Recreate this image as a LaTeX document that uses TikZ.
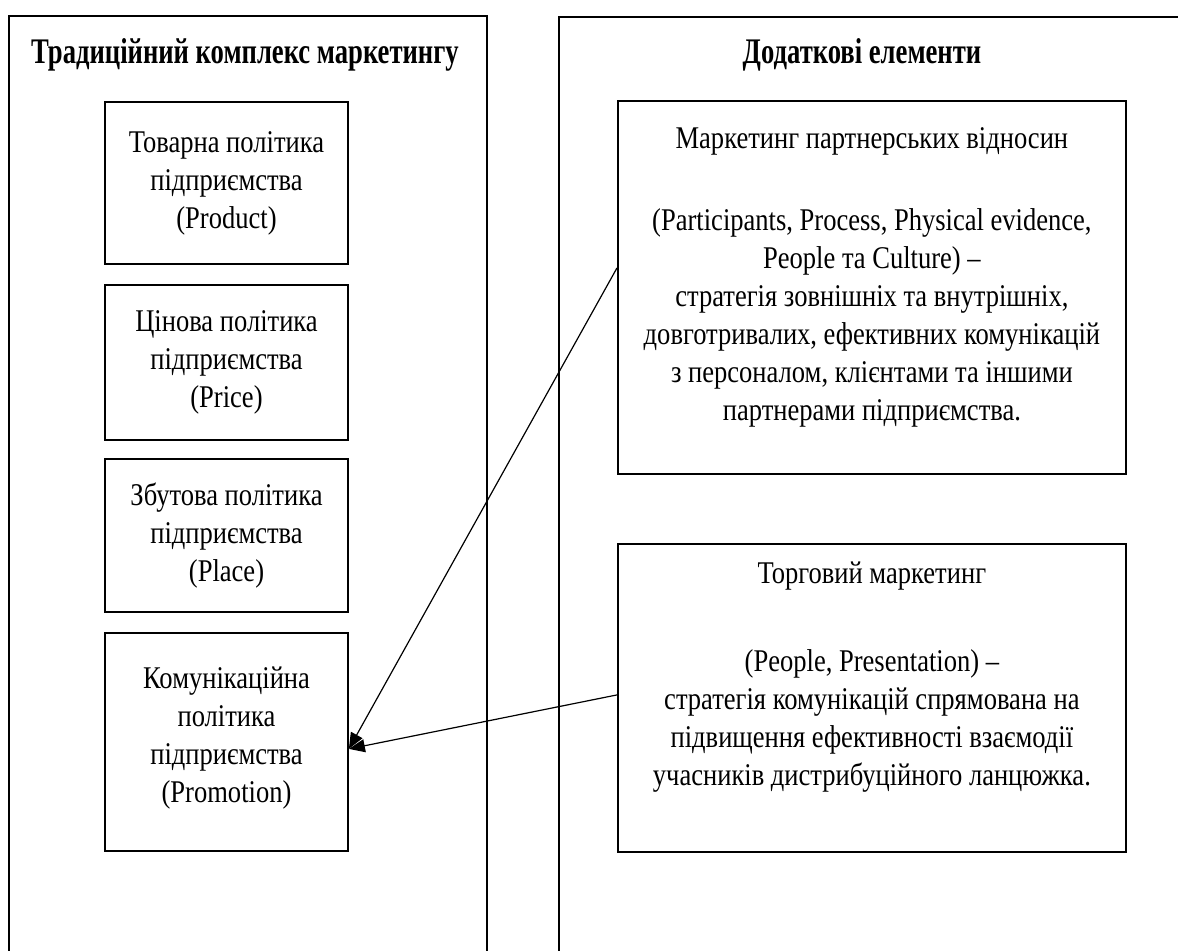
\documentclass[tikz,border=0pt]{standalone}
\usepackage{fontspec}
\setmainfont[FakeStretch=0.84]{Liberation Serif}
\newfontfamily\headfont[FakeStretch=0.74]{Liberation Serif}
\usetikzlibrary{arrows.meta,positioning}

\begin{document}
\begin{tikzpicture}[x=0.5pt,y=-0.5pt,>={Triangle[length=8pt,width=6.5pt]},
  every node/.style={font=\fontsize{15.8}{19}\selectfont},
  heading/.style={font=\fontsize{18}{21}\headfont\bfseries},
  policy/.style={draw,line width=0.9pt,minimum width=121.5pt,align=center,anchor=north,inner sep=0pt},
  extra/.style={draw,line width=0.9pt,anchor=north west,inner sep=0pt}]
  \useasboundingbox (0,0) rectangle (1178,950);
  % two frames, open at the bottom
  \draw[line width=1pt] (9,960) -- (9,16) -- (487,16) -- (487,960);
  \draw[line width=1pt] (559,960) -- (559,17) -- (1190,17);
  \node[heading] (tradtitle) at (245,55) {Традиційний комплекс маркетингу};
  \node[heading] (addtitle) at (862,55) {Додаткові елементи};
  % 4P
  \node[policy,minimum height=81pt] (product) at (226.5,101)
    {Товарна політика\\підприємства\\(Product)};
  \node[policy,minimum height=77.5pt] (price) at (226.5,284)
    {Цінова політика\\підприємства\\(Price)};
  \node[policy,minimum height=76.5pt] (place) at (226.5,458)
    {Збутова політика\\підприємства\\(Place)};
  \node[policy,minimum height=109pt] (promo) at (226.5,632)
    {Комунікаційна\\політика\\підприємства\\(Promotion)\\[-12pt]};
  % additional elements
  \node[extra] (partner) at (617,100)
    {\parbox[c][186.5pt][t]{254pt}{\centering\vspace*{13.5pt}%
     Маркетинг партнерських відносин\\[22pt]
     (Participants, Process, Physical evidence,\\
     People та Culture) --\\
     стратегія зовнішніх та внутрішніх,\\
     довготривалих, ефективних комунікацій\\
     з персоналом, клієнтами та іншими\\
     партнерами підприємства.}};
  \node[extra] (trade) at (617,543)
    {\parbox[c][154pt][t]{254pt}{\centering\vspace*{9pt}%
     Торговий маркетинг\\[25pt]
     (People, Presentation) --\\
     стратегія комунікацій спрямована на\\
     підвищення ефективності взаємодії\\
     учасників дистрибуційного ланцюжка.}};
  \draw[->,line width=0.6pt] ([yshift=9.75pt]partner.west) -- ([yshift=-3.5pt]promo.east);
  \draw[->,line width=0.6pt] ([yshift=1.5pt]trade.west) -- ([yshift=-3.5pt]promo.east);
\end{tikzpicture}
\end{document}
